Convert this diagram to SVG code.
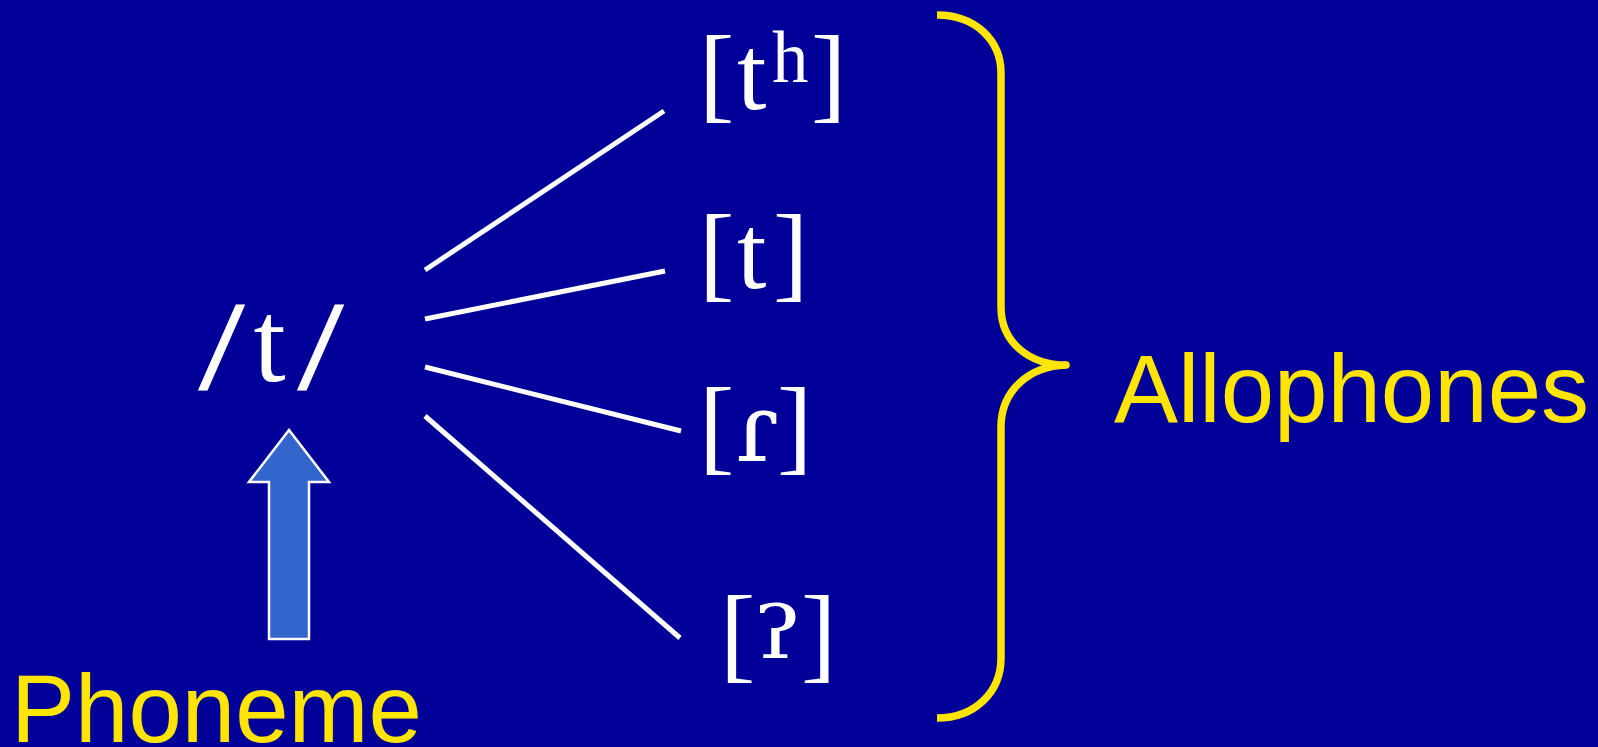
<svg xmlns="http://www.w3.org/2000/svg" width="1598" height="747" viewBox="0 0 1598 747">
<style>
.ipa{font-family:"Liberation Serif","DejaVu Serif",serif;fill:#ffffff;font-size:106px}
.ipa2{font-family:"DejaVu Serif","Liberation Serif",serif;fill:#ffffff}
.sl{font-family:"Liberation Serif","DejaVu Serif",serif;fill:#ffffff;stroke:#ffffff;stroke-width:1.2px;font-size:127px}
.lab{font-family:"Liberation Sans",Arial,sans-serif;fill:#ffe500;font-size:96px}
.con{stroke:#ffffff;stroke-width:5;fill:none}
</style>
<rect x="0" y="0" width="1598" height="747" fill="#000099"/>
<g id="connectors">
<line class="con" x1="425" y1="270" x2="664" y2="111"/>
<line class="con" x1="425" y1="319" x2="665" y2="271"/>
<line class="con" x1="425" y1="367" x2="681" y2="431"/>
<line class="con" x1="425" y1="416" x2="680" y2="638"/>
</g>
<g id="phoneme-t">
<text class="sl" transform="translate(199,389) scale(1.28,1)" x="0" y="0">/</text>
<text class="ipa" x="253.5" y="381" style="font-size:116px">t</text>
<text class="sl" transform="translate(298,389) scale(1.28,1)" x="0" y="0">/</text>
</g>
<g id="allophone-th">
<text class="ipa" y="109"><tspan x="699">[</tspan><tspan x="737">t</tspan><tspan x="811">]</tspan></text>
<text class="ipa" x="772" y="82" style="font-size:73px">h</text>
</g>
<g id="allophone-t">
<text class="ipa" y="288"><tspan x="699">[</tspan><tspan x="737">t</tspan><tspan x="773">]</tspan></text>
</g>
<g id="allophone-flap">
<text class="ipa" y="461"><tspan x="699">[</tspan><tspan x="777">]</tspan></text>
<text class="ipa2" x="735" y="461" style="font-size:96px">ɾ</text>
</g>
<g id="allophone-glottal">
<text class="ipa" y="669"><tspan x="720">[</tspan><tspan x="801">]</tspan></text>
<text class="ipa2" transform="translate(753,658) scale(1.28,1)" x="0" y="0" style="font-size:72px">ʔ</text>
</g>
<g id="arrow">
<path d="M289,430 L329,482 L309,482 L309,639 L269,639 L269,482 L249,482 Z" fill="#3366cc" stroke="#ffffff" stroke-width="2.5" stroke-linejoin="miter"/>
</g>
<g id="brace">
<path d="M937,15 C975,15 1001,40 1001,73 L1001,307 C1001,343 1030,365 1066,365 M1066,365 C1030,366 1001,390 1001,427 L1001,658 C1001,692 975,718 937,718" fill="none" stroke="#ffe500" stroke-width="7.5" stroke-linecap="butt"/>
<circle cx="1066" cy="365" r="3.75" fill="#ffe500"/>
</g>
<g id="label-phoneme">
<text class="lab" x="11" y="742">Phoneme</text>
</g>
<g id="label-allophones">
<text class="lab" x="1114" y="422">Allophones</text>
</g>
</svg>
